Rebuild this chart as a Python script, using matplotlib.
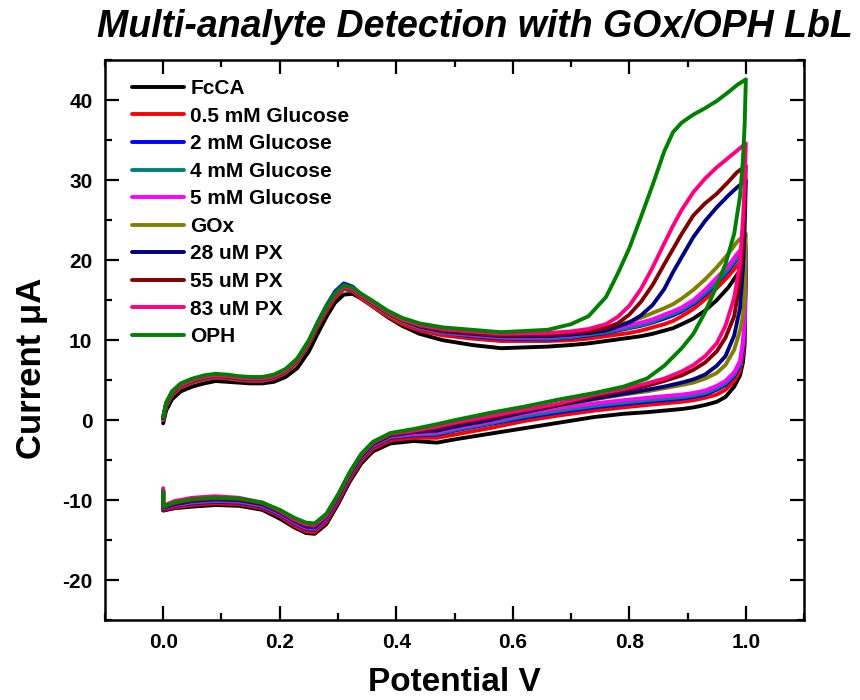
import matplotlib
matplotlib.use("Agg")
import matplotlib.pyplot as plt
from matplotlib.ticker import MultipleLocator

plt.rcParams['font.family'] = ['Liberation Sans', 'DejaVu Sans']
plt.rcParams['font.weight'] = 'bold'
plt.rcParams['axes.unicode_minus'] = False

# potential grids: forward (upper) branch 0 -> 1 V, reverse (lower) branch 1 -> 0 V
E_up = [0.0, 0.005, 0.015, 0.03, 0.05, 0.07, 0.09, 0.11, 0.13, 0.15, 0.17, 0.19, 0.21, 0.23,
        0.25, 0.265, 0.28, 0.295, 0.31, 0.325, 0.34, 0.36, 0.385, 0.41, 0.44, 0.48, 0.53, 0.58,
        0.66, 0.70, 0.73, 0.76, 0.78, 0.80, 0.82, 0.84, 0.86, 0.875, 0.89, 0.91, 0.93, 0.95,
        0.97, 0.985, 1.0]
E_dn = [0.998, 0.995, 0.99, 0.98, 0.965, 0.95, 0.93, 0.91, 0.89, 0.86, 0.83, 0.79,
        0.74, 0.68, 0.62,
        0.56, 0.5, 0.47, 0.43, 0.39, 0.36, 0.34, 0.32, 0.30, 0.28, 0.26, 0.245, 0.225,
        0.2, 0.17, 0.13, 0.09, 0.05, 0.02, 0.0, 0.0]

labels = ['FcCA', '0.5 mM Glucose', '2 mM Glucose', '4 mM Glucose', '5 mM Glucose',
          'GOx', '28 uM PX', '55 uM PX', '83 uM PX', 'OPH']
colors = ['#000000', '#ff0000', '#0000ff', '#008080', '#ff00ff',
          '#808000', '#000080', '#800000', '#ff0080', '#008000']

# currents (uA), upper branch
up_fcca = [-0.4, 1.2, 2.6, 3.6, 4.2, 4.6, 4.9, 4.8, 4.7, 4.6, 4.6, 4.8, 5.4, 6.5,
           8.6, 10.8, 12.9, 14.7, 15.7, 15.8, 15.2, 14.2, 12.9, 11.8, 10.8, 10.0, 9.4, 9.0,
           9.2, 9.4, 9.6, 9.9, 10.1, 10.3, 10.5, 10.8, 11.2, 11.5, 12.0, 12.7, 13.7, 15.0,
           16.6, 18.2, 19.5]
up_g05 = [0.0, 1.7, 3.1, 4.1, 4.7, 5.1, 5.3, 5.2, 5.0, 4.9, 4.9, 5.2, 5.9, 7.2,
          9.5, 11.7, 13.6, 15.3, 16.4, 16.1, 15.2, 14.2, 13.0, 12.0, 11.2, 10.6, 10.2, 9.9,
          9.9, 10.0, 10.2, 10.5, 10.7, 10.9, 11.2, 11.6, 12.0, 12.4, 13.0, 13.9, 15.1, 16.5,
          18.0, 19.3, 20.5]
up_g2 = [0.1, 1.9, 3.4, 4.4, 5.1, 5.5, 5.7, 5.6, 5.4, 5.3, 5.3, 5.6, 6.3, 7.6,
         9.9, 12.2, 14.3, 16.1, 17.1, 16.7, 15.7, 14.6, 13.3, 12.3, 11.5, 10.9, 10.5, 10.2,
         10.1, 10.3, 10.6, 10.9, 11.2, 11.5, 11.8, 12.2, 12.7, 13.1, 13.6, 14.5, 15.7, 17.1,
         18.7, 20.1, 21.2]
up_g4 = [0.1, 1.8, 3.2, 4.2, 4.8, 5.2, 5.4, 5.3, 5.1, 5.0, 5.0, 5.3, 6.0, 7.3,
         9.6, 11.8, 13.8, 15.5, 16.5, 16.2, 15.4, 14.4, 13.2, 12.3, 11.5, 10.9, 10.6, 10.3,
         10.2, 10.4, 10.7, 11.0, 11.3, 11.6, 11.9, 12.3, 12.9, 13.3, 13.8, 14.7, 15.9, 17.3,
         18.9, 20.3, 21.5]
up_g5 = [0.2, 1.9, 3.3, 4.3, 4.9, 5.3, 5.5, 5.4, 5.2, 5.1, 5.1, 5.4, 6.1, 7.4,
         9.7, 11.9, 13.9, 15.6, 16.6, 16.3, 15.5, 14.5, 13.3, 12.4, 11.6, 11.0, 10.7, 10.4,
         10.4, 10.6, 10.9, 11.3, 11.5, 11.9, 12.2, 12.6, 13.2, 13.6, 14.1, 15.0, 16.3, 17.8,
         19.3, 20.8, 22.0]
up_gox = [0.2, 1.9, 3.3, 4.3, 4.9, 5.3, 5.5, 5.4, 5.2, 5.1, 5.1, 5.4, 6.1, 7.4,
          9.7, 11.9, 13.9, 15.6, 16.6, 16.3, 15.5, 14.5, 13.3, 12.4, 11.7, 11.1, 10.8, 10.5,
          10.6, 10.9, 11.2, 11.6, 11.9, 12.3, 12.8, 13.4, 14.0, 14.5, 15.2, 16.3, 17.6, 19.1,
          20.8, 22.3, 23.3]
up_px28 = [0.3, 2.0, 3.4, 4.4, 5.0, 5.4, 5.6, 5.5, 5.3, 5.2, 5.2, 5.5, 6.2, 7.5,
           9.8, 12.0, 14.0, 15.8, 16.8, 16.4, 15.6, 14.6, 13.4, 12.5, 11.7, 11.1, 10.8, 10.5,
           10.5, 10.7, 10.9, 11.2, 11.7, 12.2, 13.1, 14.4, 16.4, 18.5, 20.4, 22.9, 24.9, 26.6,
           28.1, 29.1, 30.0]
up_px55 = [0.3, 2.0, 3.4, 4.3, 4.9, 5.3, 5.5, 5.4, 5.2, 5.1, 5.1, 5.4, 6.1, 7.4,
           9.7, 11.9, 13.9, 15.6, 16.6, 16.3, 15.5, 14.6, 13.4, 12.5, 11.8, 11.2, 10.9, 10.6,
           10.7, 10.9, 11.1, 11.5, 12.1, 13.2, 14.8, 16.9, 19.5, 21.4, 23.3, 25.6, 27.1, 28.3,
           29.8, 31.0, 31.8]
up_px83 = [0.5, 2.1, 3.5, 4.4, 5.0, 5.4, 5.6, 5.5, 5.3, 5.2, 5.2, 5.5, 6.2, 7.5,
           9.8, 12.0, 14.0, 15.7, 16.7, 16.4, 15.6, 14.7, 13.5, 12.6, 11.9, 11.4, 11.1, 10.8,
           10.9, 11.1, 11.4, 12.0, 12.9, 14.3, 16.4, 19.1, 22.1, 24.3, 26.3, 28.5, 30.2, 31.6,
           32.8, 33.7, 34.6]
up_oph = [0.4, 2.2, 3.6, 4.6, 5.2, 5.6, 5.8, 5.7, 5.5, 5.4, 5.4, 5.7, 6.4, 7.7,
          10.0, 12.2, 14.2, 15.9, 16.9, 16.6, 15.8, 14.9, 13.7, 12.8, 12.1, 11.6, 11.3, 11.0,
          11.3, 12.0, 13.0, 15.4, 18.3, 21.5, 25.4, 29.4, 33.6, 36.0, 37.2, 38.2, 39.0, 39.9,
          41.0, 41.9, 42.6]

# currents (uA), lower branch
dn_fcca = [9.5, 7.2, 5.6, 4.2, 2.9, 2.3, 1.9, 1.6, 1.4, 1.2, 1.0, 0.8, 0.4, -0.3, -1.0,
           -1.7, -2.4, -2.8, -2.6, -2.9, -3.9, -5.4, -7.7, -10.5, -13.0, -14.2, -14.1, -13.4,
           -12.3, -11.2, -10.7, -10.6, -10.8, -11.0, -11.3, -9.0]
dn_g05 = [10.5, 8.2, 6.2, 4.9, 3.8, 3.2, 2.8, 2.5, 2.3, 2.1, 1.9, 1.6, 1.2, 0.6, -0.1,
          -1.0, -1.8, -2.2, -2.2, -2.5, -3.6, -5.1, -7.4, -10.2, -12.7, -14.0, -13.9, -13.2,
          -12.0, -11.0, -10.5, -10.4, -10.6, -10.9, -11.2, -8.9]
dn_g2 = [11.6, 9.0, 6.8, 5.5, 4.4, 3.8, 3.2, 2.9, 2.7, 2.5, 2.3, 2.0, 1.6, 1.0, 0.3,
         -0.5, -1.3, -1.8, -1.9, -2.2, -3.3, -4.8, -7.1, -9.9, -12.4, -13.7, -13.6, -12.9,
         -11.8, -10.8, -10.3, -10.2, -10.4, -10.7, -11.1, -8.8]
dn_g4 = [12.0, 9.3, 7.0, 5.7, 4.6, 4.0, 3.4, 3.1, 2.9, 2.7, 2.5, 2.2, 1.8, 1.2, 0.5,
         -0.4, -1.2, -1.7, -1.8, -2.1, -3.2, -4.7, -7.0, -9.8, -12.3, -13.6, -13.5, -12.8,
         -11.7, -10.7, -10.2, -10.1, -10.3, -10.6, -11.0, -8.8]
dn_g5 = [12.5, 9.8, 7.4, 6.0, 4.9, 4.3, 3.7, 3.4, 3.2, 3.0, 2.8, 2.5, 2.1, 1.5, 0.8,
         -0.2, -1.0, -1.5, -1.7, -2.0, -3.1, -4.6, -6.9, -9.7, -12.2, -13.5, -13.4, -12.7,
         -11.6, -10.6, -10.1, -10.0, -10.2, -10.6, -11.0, -8.7]
dn_gox = [15.5, 13.0, 11.2, 8.8, 6.9, 5.9, 5.2, 4.7, 4.4, 4.0, 3.6, 3.2, 2.6, 1.8, 1.0,
          0.0, -0.8, -1.3, -1.5, -1.9, -3.0, -4.5, -6.8, -9.6, -12.0, -13.2, -13.1, -12.5,
          -11.4, -10.4, -9.9, -9.8, -10.0, -10.4, -10.9, -8.8]
dn_px28 = [24.0, 19.0, 14.0, 10.6, 8.0, 6.8, 5.7, 5.1, 4.7, 4.2, 3.8, 3.3, 2.7, 1.9, 1.0,
           0.0, -0.8, -1.3, -1.5, -1.9, -3.0, -4.5, -6.8, -9.6, -12.1, -13.4, -13.3, -12.6,
           -11.5, -10.5, -10.0, -9.9, -10.1, -10.5, -10.9, -8.8]
dn_px55 = [26.5, 22.0, 17.5, 13.0, 10.3, 8.6, 7.2, 6.3, 5.6, 4.9, 4.3, 3.7, 3.0, 2.0, 1.2,
           0.3, -0.5, -1.0, -1.4, -1.8, -2.9, -4.4, -6.7, -9.5, -12.0, -13.2, -13.1, -12.5,
           -11.4, -10.4, -9.9, -9.8, -10.0, -10.4, -10.9, -8.7]
dn_px83 = [29.5, 25.0, 19.6, 15.3, 11.8, 9.6, 8.0, 6.9, 6.1, 5.2, 4.6, 3.9, 3.2, 2.1, 1.3,
           0.5, -0.3, -0.8, -1.3, -1.7, -2.8, -4.3, -6.6, -9.4, -11.9, -13.1, -13.0, -12.4,
           -11.3, -10.3, -9.7, -9.5, -9.7, -10.1, -10.7, -8.5]
dn_oph = [37.0, 32.5, 28.0, 23.3, 19.5, 16.8, 13.5, 10.8, 9.0, 6.8, 5.2, 4.2, 3.4, 2.6, 1.7,
          0.9, 0.0, -0.5, -1.1, -1.6, -2.7, -4.2, -6.5, -9.3, -11.7, -12.9, -12.8, -12.2,
          -11.2, -10.3, -9.8, -9.7, -9.9, -10.3, -10.8, -8.9]

ups = [up_fcca, up_g05, up_g2, up_g4, up_g5, up_gox, up_px28, up_px55, up_px83, up_oph]
dns = [dn_fcca, dn_g05, dn_g2, dn_g4, dn_g5, dn_gox, dn_px28, dn_px55, dn_px83, dn_oph]

fig = plt.figure(figsize=(8.6, 7), dpi=100)
ax = fig.add_axes([0.122, 0.114, 0.813, 0.800])

for lab, col, u, d in zip(labels, colors, ups, dns):
    ax.plot(E_up + E_dn, u + d, color=col, lw=2.8, label=lab,
            solid_joinstyle='round', solid_capstyle='round')

ax.set_xlim(-0.1, 1.1)
ax.set_ylim(-25, 45)
ax.xaxis.set_minor_locator(MultipleLocator(0.1))
ax.yaxis.set_minor_locator(MultipleLocator(5))
ax.set_xticks([0.0, 0.2, 0.4, 0.6, 0.8, 1.0])
ax.set_yticks([-20, -10, 0, 10, 20, 30, 40])
ax.tick_params(which='both', direction='in', top=True, right=True, width=1.6)
ax.tick_params(which='major', length=10, labelsize=15, pad=9)
ax.tick_params(which='minor', length=5)
for s in ax.spines.values():
    s.set_linewidth(1.8)

ax.set_xlabel('Potential V', fontsize=24, fontweight='bold', labelpad=11)
ax.set_ylabel('Current \u03bcA', fontsize=25, fontweight='bold')
ax.yaxis.set_label_coords(-0.082, 0.45)
fig.text(0.552, 0.962, 'Multi-analyte Detection with GOx/OPH LbL', ha='center', va='center',
         fontsize=27, fontweight='bold', fontstyle='italic')

ax.legend(loc='upper left', bbox_to_anchor=(0.027, 0.981), frameon=False, fontsize=15,
          handlelength=2.5, handletextpad=0.3, labelspacing=0.41,
          borderaxespad=0.0, borderpad=0.4)

fig.savefig('out.png', dpi=100)
